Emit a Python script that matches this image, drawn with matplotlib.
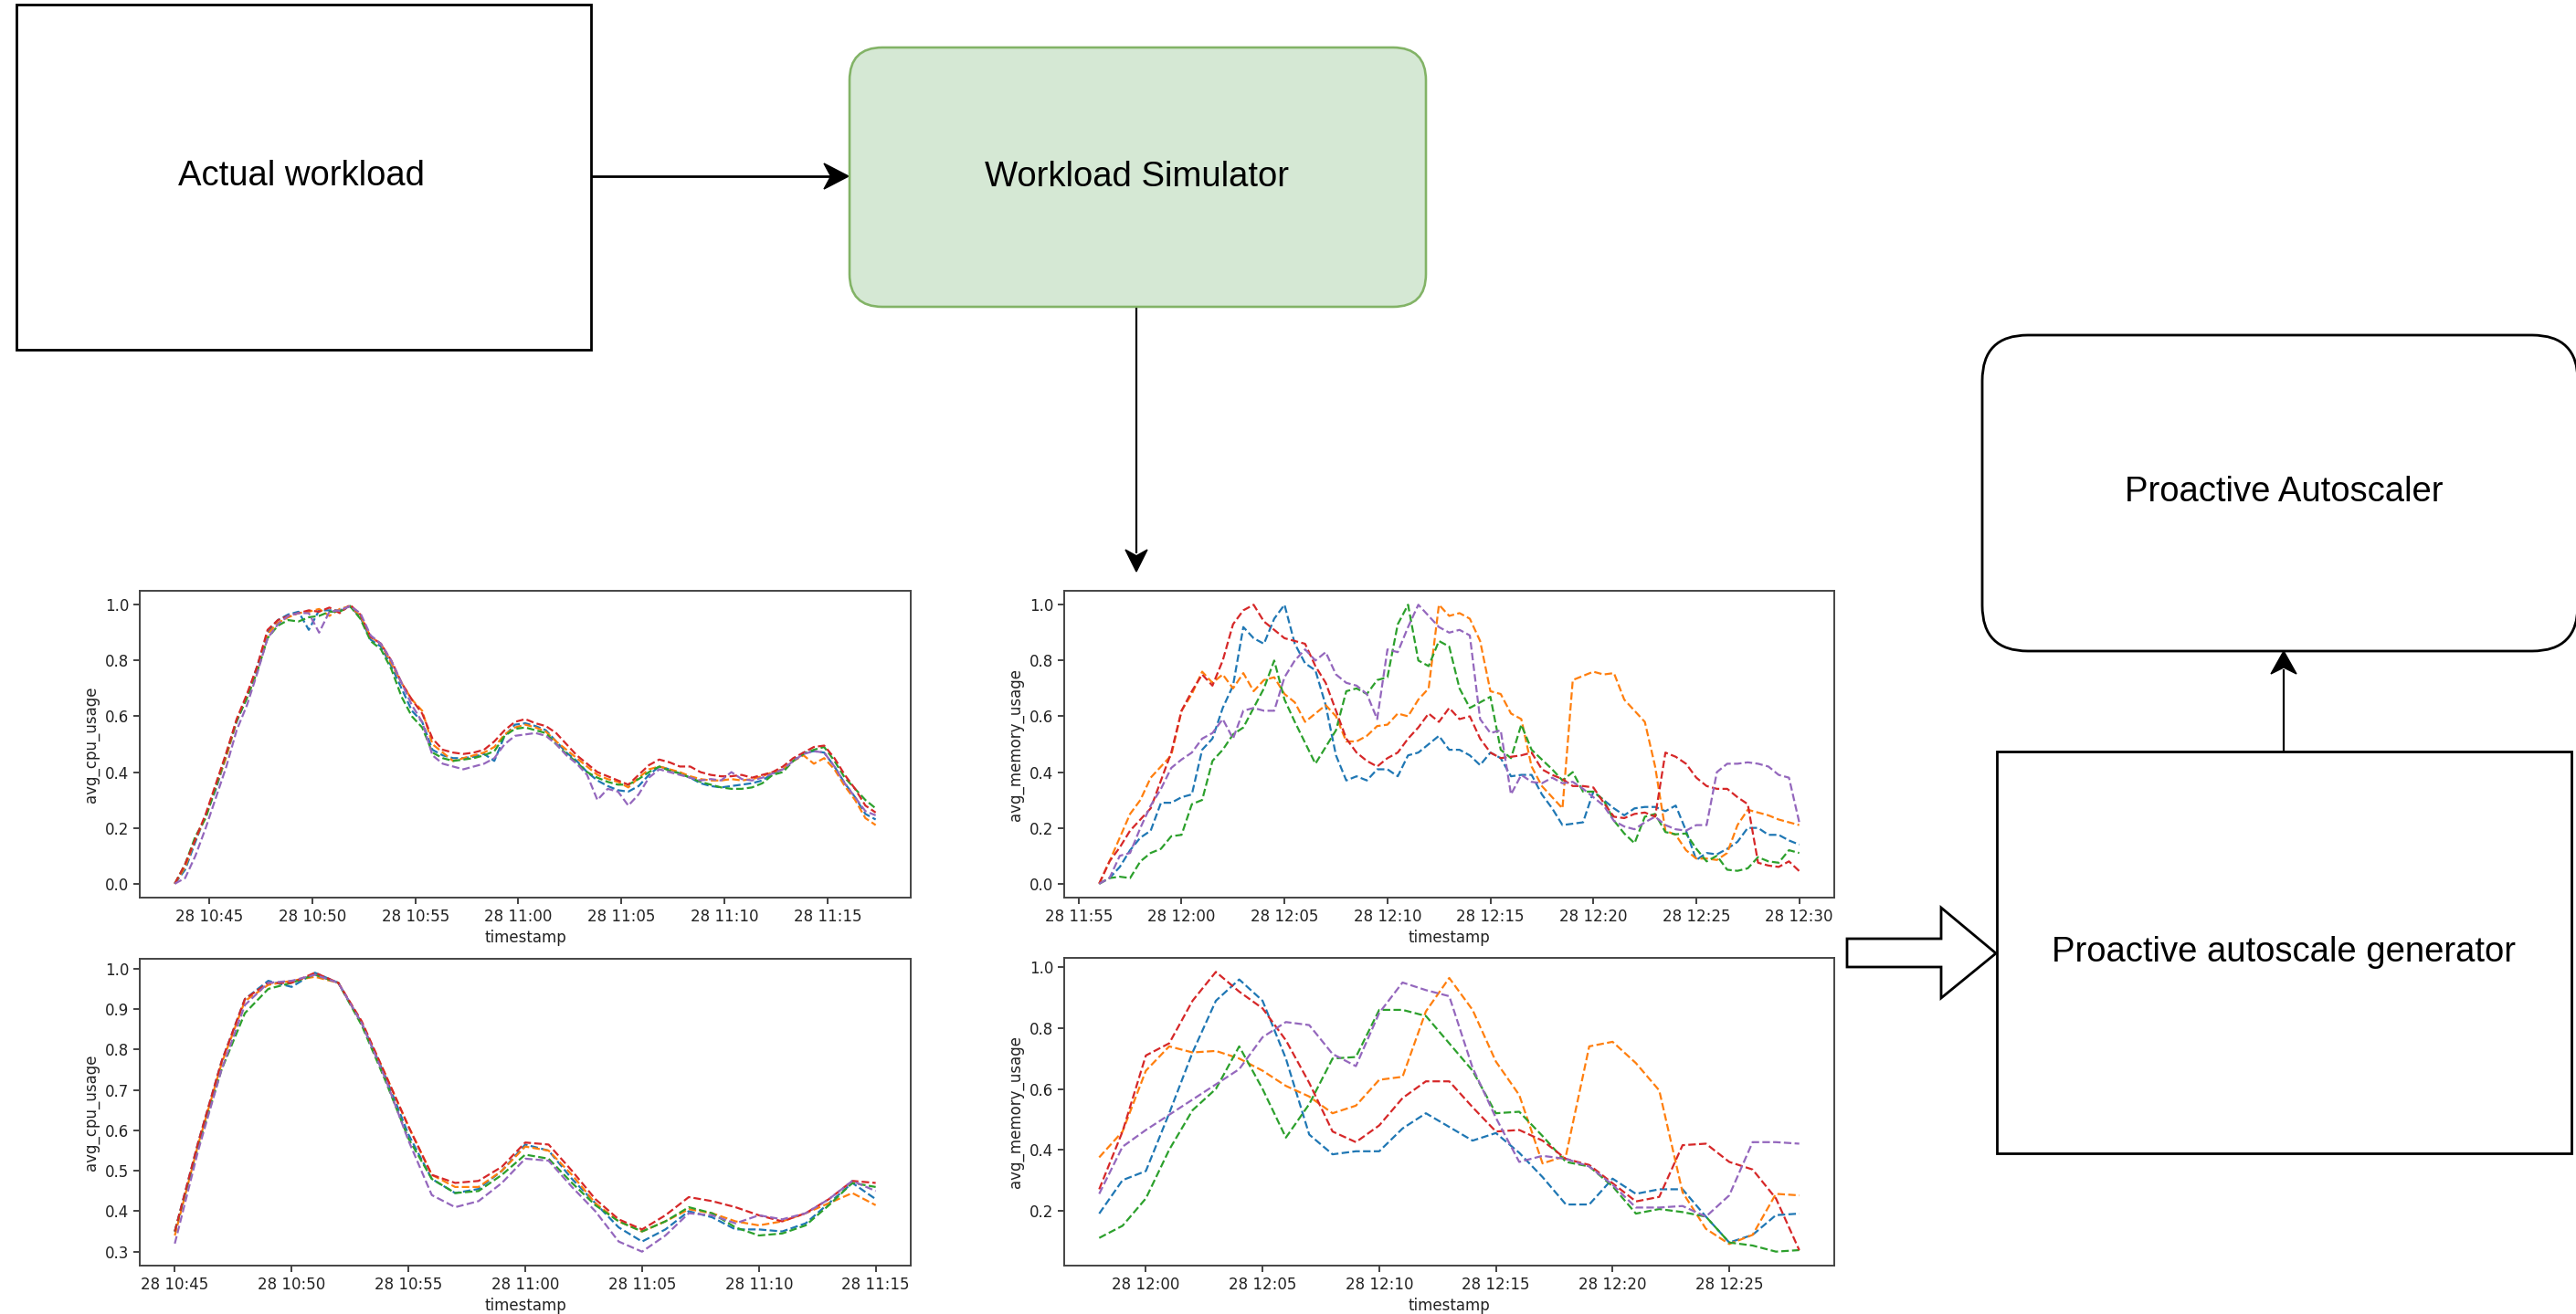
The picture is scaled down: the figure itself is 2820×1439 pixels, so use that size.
import numpy as np
import pandas as pd
import matplotlib
matplotlib.use("Agg")
import matplotlib.pyplot as plt
import matplotlib.dates as mdates
from matplotlib.patches import FancyBboxPatch, Rectangle, Polygon

# ---------------- data ----------------
SERIES_COLORS = ['#1f77b4', '#ff7f0e', '#2ca02c', '#d62728', '#9467bd']

tl_start, tl_periods, tl_freq = '2023-01-28 10:43:20', 69, '30s'
tl_blue = [0.0, 0.05, 0.15, 0.245, 0.34, 0.46, 0.58, 0.67, 0.78, 0.90,
           0.945, 0.965, 0.975, 0.91, 0.98, 0.98, 0.98, 0.995, 0.955, 0.875,
           0.85, 0.78, 0.70, 0.62, 0.58, 0.48, 0.46, 0.45, 0.45, 0.455,
           0.465, 0.44, 0.53, 0.57, 0.575, 0.565, 0.55, 0.51, 0.47, 0.44,
           0.40, 0.37, 0.35, 0.335, 0.33, 0.35, 0.39, 0.42, 0.41, 0.395,
           0.38, 0.36, 0.35, 0.345, 0.35, 0.355, 0.36, 0.37, 0.395, 0.41,
           0.44, 0.47, 0.475, 0.47, 0.42, 0.36, 0.31, 0.25, 0.23]
tl_orange = [0.0, 0.06, 0.16, 0.24, 0.35, 0.455, 0.585, 0.67, 0.765, 0.895,
             0.935, 0.955, 0.97, 0.975, 0.985, 0.96, 0.985, 0.995, 0.96, 0.885,
             0.86, 0.79, 0.72, 0.66, 0.62, 0.50, 0.47, 0.44, 0.45, 0.46,
             0.47, 0.49, 0.535, 0.56, 0.57, 0.56, 0.545, 0.51, 0.48, 0.45,
             0.42, 0.39, 0.375, 0.365, 0.345, 0.38, 0.41, 0.42, 0.41, 0.40,
             0.385, 0.375, 0.37, 0.37, 0.375, 0.37, 0.375, 0.385, 0.40, 0.41,
             0.44, 0.46, 0.43, 0.45, 0.41, 0.35, 0.30, 0.235, 0.21]
tl_green = [0.0, 0.07, 0.17, 0.235, 0.35, 0.465, 0.585, 0.665, 0.76, 0.88,
            0.925, 0.945, 0.94, 0.955, 0.96, 0.975, 0.975, 0.995, 0.95, 0.87,
            0.84, 0.77, 0.67, 0.60, 0.56, 0.47, 0.45, 0.44, 0.445, 0.45,
            0.46, 0.475, 0.53, 0.555, 0.56, 0.55, 0.54, 0.50, 0.465, 0.435,
            0.40, 0.38, 0.365, 0.355, 0.355, 0.375, 0.40, 0.42, 0.405, 0.395,
            0.38, 0.365, 0.355, 0.345, 0.34, 0.34, 0.345, 0.36, 0.39, 0.40,
            0.44, 0.465, 0.48, 0.49, 0.44, 0.38, 0.34, 0.30, 0.27]
tl_red = [0.0, 0.07, 0.16, 0.25, 0.36, 0.47, 0.59, 0.68, 0.78, 0.91,
          0.945, 0.96, 0.97, 0.98, 0.975, 0.99, 0.97, 1.0, 0.965, 0.885,
          0.86, 0.80, 0.72, 0.66, 0.61, 0.52, 0.48, 0.47, 0.465, 0.47,
          0.48, 0.51, 0.55, 0.58, 0.59, 0.575, 0.565, 0.54, 0.50, 0.46,
          0.43, 0.40, 0.385, 0.37, 0.355, 0.39, 0.425, 0.445, 0.435, 0.42,
          0.42, 0.40, 0.39, 0.385, 0.385, 0.39, 0.38, 0.39, 0.40, 0.42,
          0.45, 0.47, 0.49, 0.495, 0.45, 0.39, 0.34, 0.28, 0.255]
tl_purple = [0.0, 0.02, 0.10, 0.20, 0.31, 0.42, 0.55, 0.64, 0.755, 0.88,
             0.93, 0.96, 0.97, 0.97, 0.90, 0.975, 0.98, 0.995, 0.97, 0.89,
             0.86, 0.80, 0.72, 0.64, 0.58, 0.46, 0.43, 0.42, 0.41, 0.42,
             0.43, 0.45, 0.50, 0.53, 0.535, 0.54, 0.53, 0.50, 0.46, 0.43,
             0.39, 0.30, 0.34, 0.33, 0.28, 0.32, 0.38, 0.41, 0.40, 0.39,
             0.38, 0.37, 0.375, 0.37, 0.40, 0.375, 0.37, 0.38, 0.395, 0.41,
             0.44, 0.465, 0.475, 0.47, 0.42, 0.36, 0.31, 0.26, 0.245]

tr_start, tr_periods, tr_freq = '2023-01-28 11:56:00', 69, '30s'
tr_blue = [0.0, 0.02, 0.06, 0.12, 0.165, 0.19, 0.29, 0.29, 0.31, 0.32,
           0.48, 0.52, 0.63, 0.71, 0.92, 0.88, 0.86, 0.95, 1.0, 0.86,
           0.79, 0.765, 0.64, 0.46, 0.37, 0.385, 0.37, 0.41, 0.41, 0.385,
           0.46, 0.47, 0.50, 0.53, 0.48, 0.48, 0.46, 0.425, 0.47, 0.45,
           0.385, 0.39, 0.39, 0.32, 0.27, 0.21, 0.215, 0.22, 0.33, 0.30,
           0.27, 0.245, 0.27, 0.275, 0.275, 0.26, 0.28, 0.19, 0.085, 0.11,
           0.105, 0.125, 0.15, 0.20, 0.2, 0.175, 0.175, 0.155, 0.14]
tr_orange = [0.0, 0.08, 0.165, 0.25, 0.30, 0.38, 0.42, 0.46, 0.62, 0.68,
             0.76, 0.72, 0.75, 0.70, 0.755, 0.69, 0.73, 0.74, 0.68, 0.65,
             0.58, 0.61, 0.64, 0.60, 0.51, 0.51, 0.53, 0.565, 0.57, 0.61,
             0.60, 0.66, 0.70, 1.0, 0.96, 0.97, 0.95, 0.87, 0.69, 0.68,
             0.61, 0.59, 0.42, 0.35, 0.31, 0.27, 0.73, 0.745, 0.76, 0.75,
             0.755, 0.66, 0.62, 0.58, 0.42, 0.19, 0.175, 0.12, 0.09, 0.09,
             0.085, 0.11, 0.21, 0.265, 0.255, 0.245, 0.23, 0.22, 0.21]
tr_green = [0.0, 0.02, 0.025, 0.02, 0.08, 0.11, 0.125, 0.17, 0.175, 0.285,
            0.30, 0.44, 0.48, 0.535, 0.56, 0.63, 0.70, 0.80, 0.66, 0.58,
            0.505, 0.43, 0.49, 0.55, 0.69, 0.70, 0.68, 0.73, 0.74, 0.93,
            1.0, 0.80, 0.78, 0.87, 0.85, 0.70, 0.63, 0.65, 0.67, 0.48,
            0.45, 0.57, 0.48, 0.445, 0.41, 0.37, 0.40, 0.33, 0.33, 0.30,
            0.226, 0.18, 0.145, 0.24, 0.25, 0.185, 0.177, 0.18, 0.125, 0.08,
            0.10, 0.05, 0.046, 0.055, 0.095, 0.08, 0.075, 0.12, 0.11]
tr_red = [0.0, 0.08, 0.13, 0.19, 0.23, 0.27, 0.37, 0.47, 0.62, 0.69,
          0.75, 0.71, 0.80, 0.93, 0.98, 1.0, 0.94, 0.91, 0.88, 0.87,
          0.86, 0.78, 0.72, 0.62, 0.52, 0.47, 0.44, 0.42, 0.45, 0.47,
          0.52, 0.56, 0.61, 0.58, 0.63, 0.59, 0.60, 0.52, 0.47, 0.45,
          0.455, 0.46, 0.47, 0.41, 0.39, 0.375, 0.35, 0.35, 0.345, 0.29,
          0.24, 0.235, 0.25, 0.255, 0.24, 0.47, 0.455, 0.43, 0.38, 0.35,
          0.34, 0.34, 0.31, 0.285, 0.075, 0.065, 0.06, 0.08, 0.045]
tr_purple = [0.0, 0.02, 0.10, 0.11, 0.20, 0.28, 0.34, 0.415, 0.445, 0.47,
             0.52, 0.54, 0.59, 0.52, 0.62, 0.63, 0.62, 0.62, 0.74, 0.80,
             0.84, 0.80, 0.83, 0.75, 0.72, 0.71, 0.68, 0.59, 0.84, 0.83,
             0.92, 1.0, 0.96, 0.92, 0.90, 0.91, 0.89, 0.59, 0.54, 0.55,
             0.32, 0.39, 0.365, 0.36, 0.38, 0.36, 0.365, 0.34, 0.31, 0.28,
             0.225, 0.205, 0.195, 0.22, 0.24, 0.21, 0.195, 0.19, 0.21, 0.21,
             0.40, 0.43, 0.43, 0.435, 0.43, 0.42, 0.39, 0.38, 0.22]

bl_start, bl_periods, bl_freq = '2023-01-28 10:45:00', 31, '1min'
bl_blue = [0.35, 0.57, 0.77, 0.925, 0.97, 0.955, 0.99, 0.965, 0.865, 0.735,
           0.59, 0.48, 0.445, 0.455, 0.50, 0.565, 0.55, 0.48, 0.42, 0.36,
           0.325, 0.355, 0.40, 0.385, 0.355, 0.355, 0.35, 0.37, 0.42, 0.47, 0.43]
bl_orange = [0.34, 0.565, 0.765, 0.92, 0.96, 0.97, 0.98, 0.965, 0.865, 0.74,
             0.61, 0.49, 0.46, 0.46, 0.50, 0.56, 0.55, 0.49, 0.42, 0.375,
             0.35, 0.375, 0.405, 0.395, 0.375, 0.365, 0.375, 0.395, 0.42, 0.445, 0.415]
bl_green = [0.35, 0.56, 0.75, 0.89, 0.95, 0.965, 0.985, 0.965, 0.86, 0.725,
            0.58, 0.48, 0.445, 0.45, 0.49, 0.54, 0.53, 0.47, 0.415, 0.375,
            0.35, 0.375, 0.41, 0.395, 0.36, 0.34, 0.345, 0.365, 0.415, 0.47, 0.46]
bl_red = [0.35, 0.57, 0.77, 0.925, 0.965, 0.965, 0.99, 0.965, 0.87, 0.74,
          0.61, 0.49, 0.47, 0.475, 0.51, 0.57, 0.565, 0.50, 0.43, 0.38,
          0.355, 0.39, 0.435, 0.425, 0.41, 0.39, 0.375, 0.395, 0.43, 0.475, 0.47]
bl_purple = [0.32, 0.55, 0.75, 0.91, 0.965, 0.97, 0.985, 0.965, 0.865, 0.73,
             0.575, 0.44, 0.41, 0.425, 0.47, 0.53, 0.525, 0.46, 0.40, 0.325,
             0.30, 0.34, 0.395, 0.39, 0.37, 0.39, 0.38, 0.395, 0.43, 0.475, 0.45]

br_start, br_periods, br_freq = '2023-01-28 11:58:00', 31, '1min'
br_blue = [0.19, 0.30, 0.33, 0.52, 0.72, 0.89, 0.96, 0.89, 0.70, 0.45,
           0.385, 0.395, 0.395, 0.47, 0.52, 0.475, 0.43, 0.455, 0.39, 0.31,
           0.22, 0.22, 0.305, 0.255, 0.27, 0.27, 0.18, 0.095, 0.12, 0.185, 0.19]
br_orange = [0.375, 0.46, 0.66, 0.74, 0.72, 0.725, 0.70, 0.66, 0.61, 0.575,
             0.52, 0.545, 0.63, 0.64, 0.855, 0.965, 0.86, 0.69, 0.58, 0.355,
             0.38, 0.74, 0.755, 0.685, 0.595, 0.26, 0.14, 0.09, 0.12, 0.255, 0.25]
br_green = [0.11, 0.15, 0.24, 0.40, 0.53, 0.60, 0.74, 0.60, 0.44, 0.55,
            0.70, 0.705, 0.86, 0.86, 0.84, 0.75, 0.66, 0.52, 0.525, 0.445,
            0.36, 0.345, 0.28, 0.19, 0.205, 0.195, 0.18, 0.095, 0.085, 0.065, 0.07]
br_red = [0.27, 0.46, 0.71, 0.75, 0.89, 0.985, 0.92, 0.865, 0.76, 0.62,
          0.46, 0.425, 0.48, 0.57, 0.625, 0.625, 0.54, 0.46, 0.465, 0.43,
          0.37, 0.35, 0.29, 0.23, 0.245, 0.415, 0.42, 0.36, 0.335, 0.24, 0.07]
br_purple = [0.255, 0.41, 0.465, 0.515, 0.565, 0.615, 0.665, 0.77, 0.82, 0.81,
             0.715, 0.675, 0.85, 0.95, 0.925, 0.905, 0.67, 0.505, 0.36, 0.38,
             0.37, 0.345, 0.285, 0.21, 0.21, 0.215, 0.18, 0.25, 0.425, 0.425, 0.42]

box_labels = ['Actual workload', 'Workload Simulator', 'Proactive Autoscaler',
              'Proactive autoscale generator']

# ---------------- figure ----------------
W, H = 2820, 1439
fig = plt.figure(figsize=(W / 100, H / 100), dpi=100, facecolor='white')

# diagram overlay in pixel coordinates
ov = fig.add_axes([0, 0, 1, 1])
ov.set_xlim(0, W)
ov.set_ylim(H, 0)
ov.set_axis_off()

PX = 72 / 100  # points per pixel
DFONT = ['Liberation Sans', 'DejaVu Sans']


def head(tip, d, length, width, color='black'):
    tx, ty = tip
    dx, dy = d
    px, py = -dy, dx
    bx, by = tx - dx * length, ty - dy * length
    nx, ny = tx - dx * length * 0.72, ty - dy * length * 0.72
    pts = [(tx, ty), (bx + px * width / 2, by + py * width / 2), (nx, ny),
           (bx - px * width / 2, by - py * width / 2)]
    ov.add_patch(Polygon(pts, closed=True, facecolor=color, edgecolor=color, lw=1))


# Actual workload
ov.add_patch(Rectangle((18, 5), 629, 378, fill=False, edgecolor='black', lw=2.8 * PX))
ov.text(330, 193, box_labels[0], ha='center', va='center', fontsize=27.5, family=DFONT)

# arrow to simulator
ov.plot([647, 912], [193, 193], color='black', lw=2.8 * PX, solid_capstyle='butt')
head((929, 193), (1, 0), 27, 28)

# Workload simulator
ov.add_patch(FancyBboxPatch((930 + 36, 52 + 36), 631 - 72, 284 - 72,
                            boxstyle='round,pad=36,rounding_size=36',
                            facecolor='#d5e8d4', edgecolor='#82b366', lw=2.6 * PX))
ov.text(1245, 194, box_labels[1], ha='center', va='center', fontsize=27.5, family=DFONT)

# down arrow
ov.plot([1244, 1244], [337, 606], color='black', lw=2.2 * PX, solid_capstyle='butt')
head((1244, 626), (0, 1), 24, 24)

# Proactive autoscaler (rounded, runs to right edge)
ov.add_patch(FancyBboxPatch((2170 + 50, 367 + 50), 652 - 100, 346 - 100,
                            boxstyle='round,pad=50,rounding_size=50',
                            facecolor='white', edgecolor='black', lw=2.8 * PX))
ov.text(2500, 539, box_labels[2], ha='center', va='center', fontsize=27.5, family=DFONT)

# generator box
ov.add_patch(Rectangle((2186, 823), 629, 440, fill=False, edgecolor='black', lw=2.8 * PX))
ov.text(2500, 1043, box_labels[3], ha='center', va='center', fontsize=27.5, family=DFONT)

# up arrow
ov.plot([2500, 2500], [823, 733], color='black', lw=2.2 * PX, solid_capstyle='butt')
head((2500, 713), (0, -1), 25, 28)

# hollow block arrow
ov.add_patch(Polygon([(2022, 1028), (2125, 1028), (2125, 994), (2185, 1044),
                      (2125, 1093), (2125, 1059), (2022, 1059)], closed=True,
                     facecolor='white', edgecolor='black', lw=2.8 * PX))


# ---------------- charts ----------------
def frac(x0, y0, x1, y1):
    return [x0 / W, (H - y1) / H, (x1 - x0) / W, (y1 - y0) / H]


def chart(rect, start, periods, freq, series, ylabel):
    ax = fig.add_axes(rect)
    t = pd.date_range(start, periods=periods, freq=freq)
    for vals, c in zip(series, SERIES_COLORS):
        assert len(vals) == periods
        ax.plot(t, vals, linestyle='--', color=c, lw=1.6)
    ax.xaxis.set_major_locator(mdates.MinuteLocator(byminute=range(0, 60, 5)))
    ax.xaxis.set_major_formatter(mdates.DateFormatter('%d %H:%M'))
    ax.set_xlabel('timestamp', fontsize=12, color='#222')
    ax.set_ylabel(ylabel, fontsize=12, color='#222')
    ax.tick_params(labelsize=12, colors='#222', width=1.2, length=5)
    for s in ax.spines.values():
        s.set_color('#444')
        s.set_linewidth(1.4)
    return ax


chart(frac(153, 647, 997, 983), tl_start, tl_periods, tl_freq,
      [tl_blue, tl_orange, tl_green, tl_red, tl_purple], 'avg_cpu_usage')
chart(frac(1165, 647, 2008, 983), tr_start, tr_periods, tr_freq,
      [tr_blue, tr_orange, tr_green, tr_red, tr_purple], 'avg_memory_usage')
chart(frac(153, 1050, 997, 1386), bl_start, bl_periods, bl_freq,
      [bl_blue, bl_orange, bl_green, bl_red, bl_purple], 'avg_cpu_usage')
chart(frac(1165, 1049, 2008, 1386), br_start, br_periods, br_freq,
      [br_blue, br_orange, br_green, br_red, br_purple], 'avg_memory_usage')

fig.savefig('out.png', dpi=100, facecolor='white')
